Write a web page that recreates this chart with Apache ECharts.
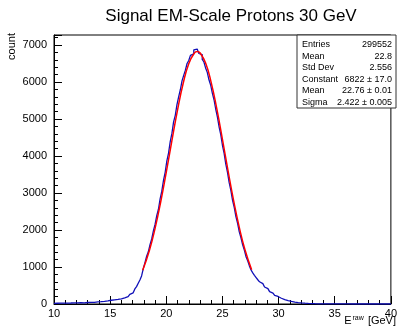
<!DOCTYPE html>
<html><head><meta charset="utf-8">
<script src="https://cdn.jsdelivr.net/npm/echarts@6/dist/echarts.min.js"></script>
<style>html,body{margin:0;padding:0;background:#fff}#c{width:400px;height:328px}</style>
</head><body><div id="c"></div>
<script>
const title = 'Signal EM-Scale Protons 30 GeV';
const binStart = 10, binWidth = 0.15;
const counts = [
18,20,17,22,19,24,21,25,23,27,26,30,28,32,30,34,36,33,38,41,39,44,47,45,51,55,58,
62,66,71,77,84,92,101,108,114,121,127,133,141,152,165,181,200,228,262,301,352,408,470,560,650,760,
955,1120,1290,1410,1605,1760,1975,2150,2390,2560,2840,3050,3340,3560,3870,4080,4390,4610,4920,5100,
5390,5600,5790,6030,6180,6320,6500,6580,6720,6760,6870,6890,6850,6770,6740,6610,6540,6380,6260,6060,
5920,5700,5520,5270,5060,4790,4580,4290,4070,3780,3560,3280,3070,2800,2610,2360,2180,1950,1790,1600,
1460,1280,1170,1030,920,
840,775,715,655,600,550,505,460,415,372,333,296,262,230,203,178,155,136,118,103,
90,78,68,59,51,44,38,33,28,24,21,18,15,13,11,10,8,7,6,
5,4,4,3,3,2,3,2,2,1,2,1,1,1,0,1,0,1,
0,0,0,0,0,0,0,0,0,0,0,0,0,0,0,0,0,0,0,0,0,0,0,0,0
];
const fitX = [17.9,18.5,19,19.5,20,20.5,21,21.5,22,22.5,22.76,23,23.5,24,24.5,25,25.5,26,26.5,27,27.6];
const fitY = [911,1452,2045,2757,3564,4414,5239,5958,6494,6783,6822,6789,6511,5984,5271,4448,3597,2788,2071,1474,926];
const statsLabels = ['Entries','Mean','Std Dev','Constant','Mean','Sigma'];
const statsValues = ['299552','22.8','2.556','6822 \u00b1 17.0','22.76 \u00b1 0.01','2.422 \u00b1 0.005'];
const xRange = [10, 40], xStep = 5;
const yRange = [0, 7270], yStep = 1000, yMinorStep = 200;

const histData = counts.map((v, i) => [binStart + i * binWidth, v]);
histData.push([binStart + counts.length * binWidth, counts[counts.length - 1]]);
const fitData = fitX.map((x, i) => [x, fitY[i]]);

const FONT = '"Liberation Sans", Arial, sans-serif';
const chart = echarts.init(document.getElementById('c'), null, {renderer: 'canvas'});

const statsGraphics = [{
  type: 'rect', shape: {x: 297, y: 35, width: 99, height: 73},
  style: {fill: '#fff', stroke: '#333', lineWidth: 1}, z: 100
}];
statsLabels.forEach((lab, i) => {
  const y = 44.5 + i * 11.6;
  statsGraphics.push({type: 'text', x: 302, y: y, z: 101,
    style: {text: lab, font: '9px ' + FONT, fill: '#000', textAlign: 'left', textVerticalAlign: 'middle'}});
  statsGraphics.push({type: 'text', x: 392, y: y, z: 101,
    style: {text: statsValues[i], font: '9px ' + FONT, fill: '#000', textAlign: 'right', textVerticalAlign: 'middle'}});
});

chart.setOption({
  animation: false,
  backgroundColor: '#fff',
  title: {text: title, left: 226, top: 3, textAlign: 'center',
    textStyle: {fontFamily: FONT, fontSize: 17, fontWeight: 'normal', color: '#000'}},
  grid: {left: 54, right: 6, top: 35, bottom: 24, show: true, borderColor: '#000', borderWidth: 1, backgroundColor: 'transparent'},
  xAxis: {
    type: 'value', min: xRange[0], max: xRange[1], interval: xStep,
    axisLine: {lineStyle: {color: '#000', width: 1}},
    axisTick: {inside: true, length: 8, lineStyle: {color: '#000'}},
    minorTick: {show: true, splitNumber: 5, length: 4, lineStyle: {color: '#000'}},
    axisLabel: {color: '#000', fontFamily: FONT, fontSize: 11, margin: 4},
    splitLine: {show: false}
  },
  yAxis: [{
    type: 'value', min: yRange[0], max: yRange[1], interval: yStep,
    axisLine: {show: true, lineStyle: {color: '#000', width: 1}},
    axisTick: {show: true, inside: true, length: 8, lineStyle: {color: '#000'}},
    axisLabel: {color: '#000', fontFamily: FONT, fontSize: 11, margin: 7,
      formatter: v => (v % yStep === 0 ? String(v) : '')},
    splitLine: {show: false}
  }, {
    type: 'value', min: yRange[0], max: yRange[1], interval: yMinorStep, position: 'left',
    axisLine: {show: false},
    axisTick: {show: true, inside: true, length: 4, lineStyle: {color: '#000'}},
    axisLabel: {show: false}, splitLine: {show: false}
  }],
  series: [{
    type: 'line', data: histData, step: 'end', symbol: 'none', yAxisIndex: 0,
    lineStyle: {color: '#1010b8', width: 1.3}, z: 3
  }, {
    type: 'line', data: fitData, smooth: true, symbol: 'none', yAxisIndex: 0,
    lineStyle: {color: '#ff0000', width: 1.5}, z: 4
  }],
  graphic: statsGraphics.concat([
    {type: 'text', x: 12, y: 33, rotation: Math.PI / 2,
      style: {text: 'count', font: '11px ' + FONT, fill: '#000', textAlign: 'right', textVerticalAlign: 'middle'}},
    {type: 'text', x: 396, y: 321,
      style: {text: '{a|E}{s|raw}{a| [GeV]}', textAlign: 'right', textVerticalAlign: 'middle',
        rich: {a: {fontFamily: FONT, fontSize: 11, fill: '#000', color: '#000'},
               s: {fontFamily: FONT, fontSize: 7, color: '#000', verticalAlign: 'top', padding: [0,1,6,1]}}}}
  ])
});
</script></body></html>
